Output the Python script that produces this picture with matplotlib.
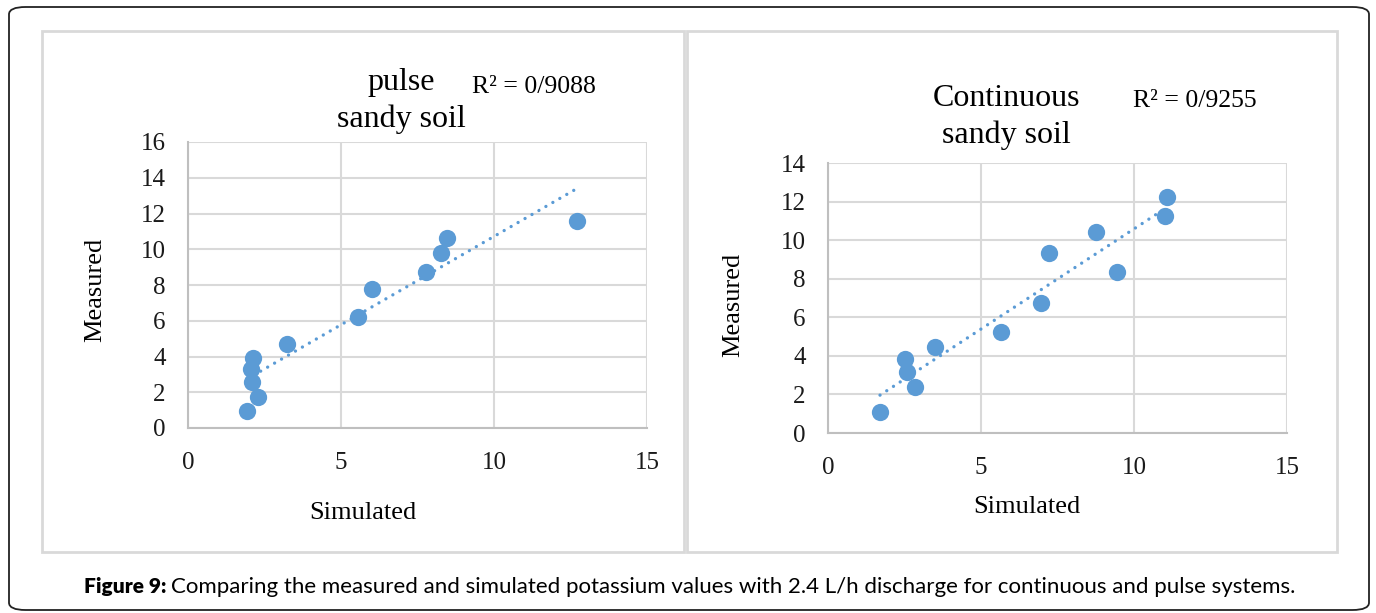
import numpy as np
import matplotlib
matplotlib.use("Agg")
import matplotlib.pyplot as plt
from matplotlib.patches import FancyBboxPatch, Rectangle

# pulse, sandy soil
pulse_sim = [1.92, 2.30, 2.10, 2.06, 2.11, 3.25, 5.55, 6.02, 7.79, 8.28, 8.46, 12.71]
pulse_meas = [0.95, 1.75, 2.59, 3.28, 3.89, 4.68, 6.20, 7.75, 8.70, 9.80, 10.63, 11.60]

# continuous, sandy soil
cont_sim = [1.70, 2.84, 2.57, 2.52, 3.51, 5.65, 6.95, 7.23, 8.76, 9.43, 11.01, 11.07]
cont_meas = [1.07, 2.36, 3.18, 3.83, 4.46, 5.25, 6.75, 9.31, 10.41, 8.34, 11.24, 12.24]

W, H = 1376, 613
BLUE = '#5B9BD5'
SERIF = 'Liberation Serif'

fig = plt.figure(figsize=(W / 100, H / 100), dpi=100)


def box(x0, y0, x1, y1):
    # pixel box (top-left origin) -> figure fraction rect
    return [x0 / W, 1 - y1 / H, (x1 - x0) / W, (y1 - y0) / H]


# outer rounded frame
fig.patches.append(FancyBboxPatch((9 / W, 3 / H), 1360 / W, 603 / H,
                                  boxstyle='round,pad=0,rounding_size=0.012',
                                  transform=fig.transFigure, fill=False,
                                  edgecolor='#222222', lw=1.3))
# chart panels
for x0, x1 in [(42, 684), (687, 1337)]:
    fig.patches.append(Rectangle((x0 / W, 1 - 552 / H), (x1 - x0) / W, (552 - 31) / H,
                                 transform=fig.transFigure, fill=False,
                                 edgecolor='#d9d9d9', lw=2))


def scatter_panel(rect, sim, meas, ymax, r2, title, title_xy, r2_xy, ylab_xy, xlab_xy):
    ax = fig.add_axes(box(*rect))
    ax.scatter(sim, meas, s=155, color=BLUE, zorder=3, linewidths=0)
    k, b = np.polyfit(sim, meas, 1)
    xs = np.array([min(sim), max(sim)])
    ax.plot(xs, k * xs + b, color=BLUE, lw=2.4, linestyle=(0, (0.01, 2.4)),
            dash_capstyle='round', zorder=2)
    ax.set_xlim(0, 15)
    ax.set_ylim(0, ymax)
    ax.set_xticks([0, 5, 10, 15])
    ax.set_yticks(range(0, ymax + 1, 2))
    ax.grid(True, color='#d9d9d9', lw=1.5)
    ax.set_axisbelow(True)
    for s in ['top', 'right']:
        ax.spines[s].set_visible(False)
    for s in ['left', 'bottom']:
        ax.spines[s].set_color('#bfbfbf')
        ax.spines[s].set_linewidth(1.5)
    ax.tick_params(length=0, labelsize=18, labelcolor='#1a1a1a')
    ax.tick_params(axis='y', pad=16)
    ax.tick_params(axis='x', pad=17)
    for lab in ax.get_xticklabels() + ax.get_yticklabels():
        lab.set_fontfamily(SERIF)

    fig.text(title_xy[0] / W, 1 - title_xy[1] / H, title, ha='center', va='center',
             fontsize=23, family=SERIF, linespacing=1.3)
    fig.text(r2_xy[0] / W, 1 - r2_xy[1] / H, 'R² = ' + r2, ha='left', va='center',
             fontsize=18.5, family=SERIF)
    fig.text(ylab_xy[0] / W, 1 - ylab_xy[1] / H, 'Measured', rotation=90,
             ha='center', va='center', fontsize=19, family=SERIF)
    fig.text(xlab_xy[0] / W, 1 - xlab_xy[1] / H, 'Simulated',
             ha='center', va='center', fontsize=19, family=SERIF)


scatter_panel((188, 142, 647, 428), pulse_sim, pulse_meas, 16, '0/9088',
              'pulse\nsandy soil', (401, 101), (472, 87), (95, 290), (363, 513))
scatter_panel((828, 163, 1287, 433), cont_sim, cont_meas, 14, '0/9255',
              'Continuous\nsandy soil', (1006, 117), (1133, 101), (733, 305), (1027, 507))

# caption: bold lead-in, then the rest placed right after it
lead = fig.text(84 / W, 1 - 587 / H, 'Figure 9: ', fontsize=15, family='Lato',
                weight='heavy', ha='left', va='center')
r = fig.canvas.get_renderer()
x_end = lead.get_window_extent(renderer=r).x1
fig.text(x_end / W, 1 - 587 / H,
         'Comparing the measured and simulated potassium values with 2.4 L/h discharge '
         'for continuous and pulse systems.',
         fontsize=16, family='Lato', ha='left', va='center')

fig.savefig('out.png', dpi=100)
